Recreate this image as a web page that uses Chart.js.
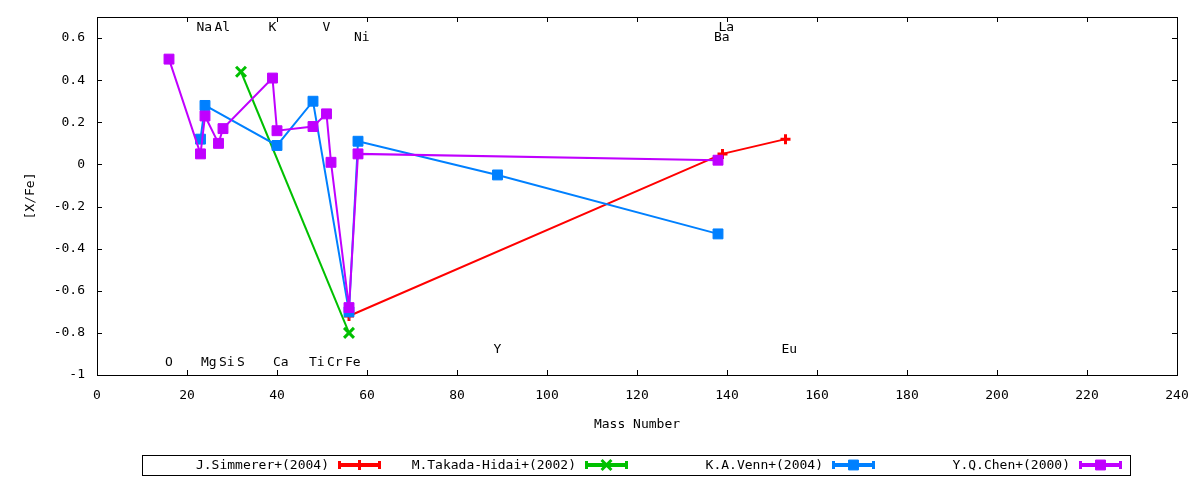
<!DOCTYPE html>
<html>
<head>
<meta charset="utf-8">
<script src="https://cdn.jsdelivr.net/npm/chart.js@4.4.0/dist/chart.umd.min.js"></script>
<style>
  html, body { margin: 0; padding: 0; background: #fff; }
  #wrap { width: 1200px; height: 480px; }
</style>
</head>
<body>
<div id="wrap"><canvas id="chart" width="1200" height="480"></canvas></div>
<script>
const FONT = '"DejaVu Sans Mono", monospace';

// series: mass number -> [X/Fe]
const simmererMass = [56, 139, 153];
const simmererXFe = [-0.72, 0.05, 0.12];
const takadaMass = [32, 56];
const takadaXFe = [0.44, -0.80];
const vennMass = [23, 24, 40, 48, 56, 58, 89, 138];
const vennXFe = [0.12, 0.28, 0.09, 0.30, -0.70, 0.11, -0.05, -0.33];
const chenMass = [16, 23, 24, 27, 28, 39, 40, 48, 51, 52, 56, 58, 138];
const chenXFe = [0.50, 0.05, 0.23, 0.10, 0.17, 0.41, 0.16, 0.18, 0.24, 0.01, -0.68, 0.05, 0.02];

const seriesNames = ['J.Simmerer+(2004)', 'M.Takada-Hidai+(2002)', 'K.A.Venn+(2004)', 'Y.Q.Chen+(2000)'];

// element tags written inside the plot
const elemNames = ['O', 'Na', 'Mg', 'Al', 'Si', 'S', 'K', 'Ca', 'Ti', 'V', 'Cr', 'Fe', 'Ni', 'Y', 'Ba', 'La', 'Eu'];
const elemMass = [16, 23, 24, 27, 28, 32, 39, 40, 48, 51, 52, 56, 58, 89, 138, 139, 153];
const elemLevel = [-0.94, 0.65, -0.94, 0.65, -0.94, -0.94, 0.65, -0.94, -0.94, 0.65, -0.94, -0.94, 0.60, -0.88, 0.60, 0.65, -0.88];

const xTicks = [0, 20, 40, 60, 80, 100, 120, 140, 160, 180, 200, 220, 240];
const yTicks = [-1, -0.8, -0.6, -0.4, -0.2, 0, 0.2, 0.4, 0.6];

const pts = (xs, ys) => xs.map((x, i) => ({ x: x, y: ys[i] }));

function series(i, data, color, style, radius, pbw) {
  return {
    label: seriesNames[i],
    data: data,
    showLine: true,
    tension: 0,
    borderColor: color,
    backgroundColor: color,
    borderWidth: 2,
    pointStyle: style,
    pointRadius: radius,
    pointBorderWidth: pbw,
    pointBackgroundColor: color,
    pointBorderColor: color,
    order: 3 - i
  };
}

// frame + inward ticks, gnuplot style
const framePlugin = {
  id: 'frame',
  beforeDatasetsDraw(chart) {
    const { ctx, chartArea: a, scales } = chart;
    ctx.save();
    ctx.strokeStyle = '#000';
    ctx.lineWidth = 1;
    ctx.strokeRect(a.left + 0.5, a.top + 0.5, a.right - a.left, a.bottom - a.top);
    ctx.beginPath();
    scales.x.ticks.forEach(t => {
      const px = Math.round(scales.x.getPixelForValue(t.value)) + 0.5;
      ctx.moveTo(px, a.bottom); ctx.lineTo(px, a.bottom - 5);
      ctx.moveTo(px, a.top); ctx.lineTo(px, a.top + 5);
    });
    scales.y.ticks.forEach(t => {
      const py = Math.round(scales.y.getPixelForValue(t.value)) + 0.5;
      ctx.moveTo(a.left, py); ctx.lineTo(a.left + 5, py);
      ctx.moveTo(a.right, py); ctx.lineTo(a.right - 5, py);
    });
    ctx.stroke();
    ctx.restore();
  }
};

const elemPlugin = {
  id: 'elements',
  afterDatasetsDraw(chart) {
    const { ctx, scales } = chart;
    ctx.save();
    ctx.font = '13px ' + FONT;
    ctx.fillStyle = '#000';
    ctx.textAlign = 'left';
    ctx.textBaseline = 'middle';
    elemNames.forEach((n, i) => {
      ctx.fillText(n, scales.x.getPixelForValue(elemMass[i]) - 4, scales.y.getPixelForValue(elemLevel[i]));
    });
    ctx.restore();
  }
};

const legendPlugin = {
  id: 'boxLegend',
  afterDraw(chart) {
    const { ctx } = chart;
    const boxL = 142, boxT = 455, boxW = 988, boxH = 20;
    const cy = boxT + boxH / 2;
    ctx.save();
    ctx.strokeStyle = '#000';
    ctx.lineWidth = 1;
    ctx.strokeRect(boxL + 0.5, boxT + 0.5, boxW, boxH);
    ctx.font = '13px ' + FONT;
    ctx.textAlign = 'right';
    ctx.textBaseline = 'middle';
    chart.data.datasets.forEach((ds, i) => {
      const sx = boxL + 196 + i * 247;
      const sw = 43;
      ctx.fillStyle = '#000';
      ctx.fillText(ds.label, sx - 9, cy + 1);
      ctx.strokeStyle = ds.borderColor;
      ctx.fillStyle = ds.borderColor;
      ctx.lineWidth = 4;
      ctx.beginPath();
      ctx.moveTo(sx, cy); ctx.lineTo(sx + sw, cy);
      ctx.stroke();
      ctx.lineWidth = 3;
      ctx.beginPath();
      ctx.moveTo(sx + 1.5, cy - 4); ctx.lineTo(sx + 1.5, cy + 4);
      ctx.moveTo(sx + sw - 1.5, cy - 4); ctx.lineTo(sx + sw - 1.5, cy + 4);
      ctx.stroke();
      ctx.lineWidth = ds.pointBorderWidth;
      Chart.helpers.drawPoint(ctx, {
        pointStyle: ds.pointStyle, rotation: 0,
        radius: ds.pointRadius, borderWidth: ds.pointBorderWidth
      }, sx + sw / 2, cy);
    });
    ctx.restore();
  }
};

new Chart(document.getElementById('chart'), {
  type: 'scatter',
  data: {
    datasets: [
      series(0, pts(simmererMass, simmererXFe), '#ff0000', 'cross', 5, 3),
      series(1, pts(takadaMass, takadaXFe), '#00c000', 'crossRot', 7, 3),
      series(2, pts(vennMass, vennXFe), '#0080ff', 'rect', 7, 1),
      series(3, pts(chenMass, chenXFe), '#c000ff', 'rect', 7, 1)
    ]
  },
  options: {
    responsive: false,
    animation: false,
    devicePixelRatio: 1,
    layout: { padding: { top: 17, right: 23, left: 0, bottom: 0 } },
    plugins: { legend: { display: false }, tooltip: { enabled: false } },
    scales: {
      x: {
        type: 'linear', min: 0, max: 240,
        afterBuildTicks: s => { s.ticks = xTicks.map(v => ({ value: v })); },
        afterFit: s => { s.height = 105; s.paddingLeft = 0; s.paddingRight = 0; },
        grid: { display: false, drawTicks: false },
        border: { display: false },
        ticks: { color: '#000', font: { family: FONT, size: 13 }, padding: 13, maxRotation: 0, autoSkip: false },
        title: { display: true, text: 'Mass Number', color: '#000', font: { family: FONT, size: 13 }, padding: { top: 0, bottom: 48 } }
      },
      y: {
        type: 'linear', min: -1, max: 0.7,
        afterBuildTicks: s => { s.ticks = yTicks.map(v => ({ value: v })); },
        afterFit: s => { s.width = 97; s.paddingTop = 0; s.paddingBottom = 0; },
        grid: { display: false, drawTicks: false },
        border: { display: false },
        ticks: { color: '#000', font: { family: FONT, size: 13 }, padding: 12, autoSkip: false,
                 callback: v => String(Math.round(v * 10) / 10) },
        title: { display: true, text: '[X/Fe]', color: '#000', font: { family: FONT, size: 13 }, padding: { top: 23, bottom: 0 } }
      }
    }
  },
  plugins: [framePlugin, elemPlugin, legendPlugin]
});
</script>
</body>
</html>
